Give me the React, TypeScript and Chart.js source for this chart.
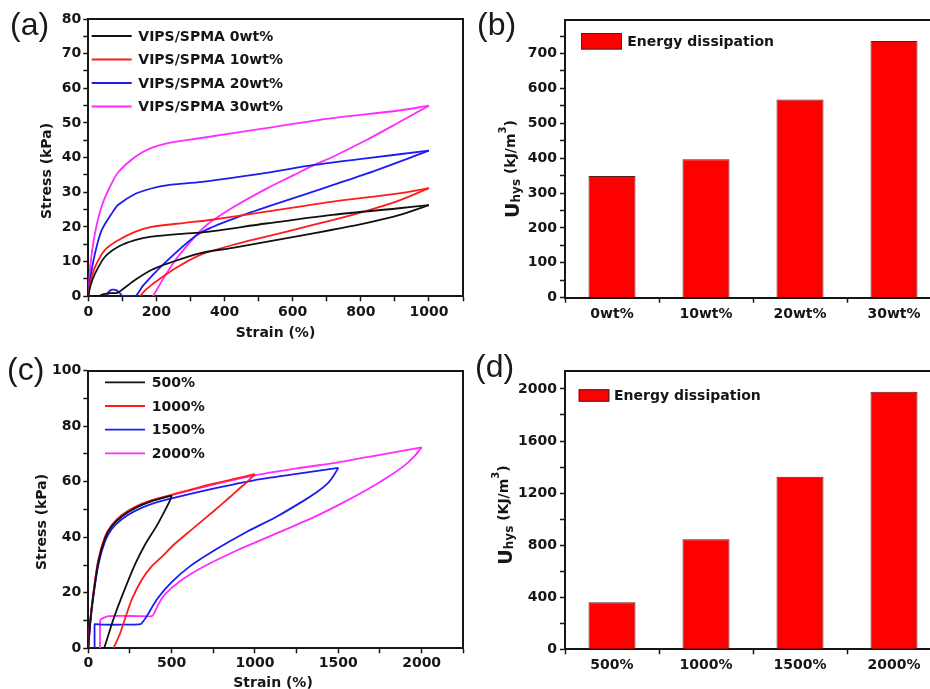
import React, { useEffect, useRef } from 'react';
import { Chart, registerables } from 'chart.js';

Chart.register(...registerables);

const FONT = '"DejaVu Sans", sans-serif';
const INK = '#161616';

// ---------- Panel (a): stress-strain loops, 0-30 wt% ----------
const aLabels = ['VIPS/SPMA 0wt%', 'VIPS/SPMA 10wt%', 'VIPS/SPMA 20wt%', 'VIPS/SPMA 30wt%'];
const aColors = ['#111111', '#ff1c1c', '#1c1cf2', '#ff2cff'];

const a0LoadStrain = [0, 6, 20, 49, 88, 137, 185, 283, 341, 522, 717, 912, 1000];
const a0LoadStress = [0, 3, 6.6, 11.4, 14.3, 16.2, 17.2, 18.1, 18.5, 21.0, 23.5, 25.4, 26.3];
const a0UnloadStrain = [1000, 912, 815, 717, 620, 522, 424, 327, 234, 185, 137, 98, 85, 65, 45, 30];
const a0UnloadStress = [26.3, 23.4, 21.1, 19.2, 17.4, 15.7, 14.0, 12.4, 9.5, 7.6, 4.7, 1.8, 1.0, 0.9, 0.6, 0];

const a10LoadStrain = [0, 6, 20, 49, 88, 137, 185, 283, 341, 522, 717, 912, 1000];
const a10LoadStress = [0, 4, 8.5, 13.4, 16.2, 18.6, 20.0, 21.2, 21.8, 24.4, 27.3, 29.7, 31.2];
const a10UnloadStrain = [1000, 912, 815, 717, 620, 522, 424, 327, 263, 205, 170, 151];
const a10UnloadStress = [31.2, 27.6, 24.6, 22.0, 19.6, 17.2, 14.8, 11.9, 8.5, 4.7, 2.0, 0];

const a20LoadStrain = [0, 8, 20, 39, 73, 88, 137, 185, 234, 334, 522, 663, 815, 1000];
const a20LoadStress = [0, 6.5, 12.5, 19, 24.5, 26.4, 29.5, 31.1, 32.1, 33.0, 35.6, 37.9, 39.8, 42];
const a20UnloadStrain = [1000, 815, 620, 454, 327, 234, 185, 160, 137, 100, 92, 82, 70, 60, 55];
const a20UnloadStress = [42, 35.3, 28.9, 23.4, 18.2, 10.5, 5.7, 3.0, 0, 0.2, 1.0, 1.8, 1.9, 1.3, 0.3];

const a30LoadStrain = [0, 6, 19.6, 39, 63.5, 88, 137, 185, 234, 327, 522, 717, 912, 1000];
const a30LoadStress = [0, 9, 18.2, 25.9, 31.6, 35.8, 40.2, 42.8, 44.2, 45.6, 48.5, 51.4, 53.6, 55];
const a30UnloadStrain = [1000, 912, 815, 717, 663, 600, 522, 424, 341, 263, 224, 190];
const a30UnloadStress = [55, 50.2, 45.0, 40.2, 37.9, 34.8, 31.0, 25.6, 20.0, 11.4, 5.7, 0];

// ---------- Panel (b): energy dissipation vs content ----------
const bCategories = ['0wt%', '10wt%', '20wt%', '30wt%'];
const bValues = [349, 397, 568, 736];

// ---------- Panel (c): loops at different strains ----------
const cLabels = ['500%', '1000%', '1500%', '2000%'];
const cColors = ['#111111', '#ff1c1c', '#1c1cf2', '#ff2cff'];

const c500LoadStrain = [0, 10, 30, 60, 100, 141, 201, 281, 381, 500];
const c500LoadStress = [0, 8.5, 19, 31, 39.5, 44, 47.5, 50.5, 53, 55];
const c500UnloadStrain = [500, 491, 461, 411, 341, 281, 201, 150, 111, 95];
const c500UnloadStress = [55, 53.4, 49.8, 44.2, 37.4, 30.3, 18.6, 10.4, 3, 0];

const c1000LoadStrain = [0, 10, 30, 60, 100, 141, 201, 281, 381, 500, 750, 1000];
const c1000LoadStress = [0, 9, 19.8, 31.8, 40.2, 44.4, 48, 51, 53.4, 55.3, 59.3, 62.7];
const c1000UnloadStrain = [1000, 960, 900, 852, 750, 611, 511, 450, 381, 320, 261, 225, 191, 165, 150];
const c1000UnloadStress = [62.7, 60.3, 57.2, 54.6, 49.3, 42.3, 37.2, 33.5, 29.6, 24.6, 17.6, 11.5, 5.4, 1.8, 0];

const c1500LoadStrain = [0, 10, 30, 60, 100, 141, 201, 281, 381, 500, 750, 1000, 1250, 1500];
const c1500LoadStress = [0, 8, 18.5, 30, 38.5, 43, 46.5, 49.5, 52, 54, 57.5, 60.6, 62.8, 65];
const c1500UnloadStrain = [1500, 1470, 1433, 1370, 1293, 1132, 952, 782, 611, 500, 411, 350, 320, 305, 200, 100, 45, 38, 38];
const c1500UnloadStress = [65, 62, 59.2, 56.2, 53.2, 47.5, 42, 36.2, 29.6, 23.8, 17.6, 11.5, 9, 8.6, 8.5, 8.5, 8.7, 8.7, 0];

const c2000LoadStrain = [0, 10, 30, 60, 100, 141, 201, 281, 381, 500, 750, 1000, 1250, 1500, 1750, 2000];
const c2000LoadStress = [0, 8.5, 19.5, 31.5, 40, 44.2, 47.8, 50.8, 53.2, 55.2, 59, 62.3, 64.8, 67, 69.7, 72.4];
const c2000UnloadStrain = [2000, 1960, 1900, 1800, 1674, 1520, 1373, 1200, 1052, 900, 691, 560, 461, 420, 395, 381, 300, 200, 120, 85, 72, 70];
const c2000UnloadStress = [72.4, 69.4, 66, 61.8, 57.2, 52.2, 47.8, 43.2, 39.4, 35.5, 29.4, 24.6, 19.5, 15.8, 12.6, 11.6, 11.6, 11.7, 11.6, 10.8, 10.2, 0];

// ---------- Panel (d): energy dissipation vs strain ----------
const dCategories = ['500%', '1000%', '1500%', '2000%'];
const dValues = [361, 846, 1325, 1979];

// ---------- helpers ----------
const zip = (xs: number[], ys: number[]) => xs.map((x, i) => ({ x, y: ys[i] }));

const tickFont = { family: FONT, size: 14, weight: 'bold' as const };

function baseAxis(extra: any) {
  return {
    display: true,
    border: { display: true, color: INK, width: 2 },
    grid: { display: true, drawOnChartArea: false, drawTicks: true, tickLength: 5, tickColor: INK, tickWidth: 1.5, color: INK },
    ...extra,
  };
}

function frameAxis(position: 'top' | 'right', size: number) {
  return {
    type: 'linear',
    position,
    display: true,
    grid: { display: false },
    ticks: { display: false },
    border: { display: true, color: INK, width: 2 },
    afterFit: (s: any) => {
      if (position === 'top') s.height = size;
      else s.width = size;
    },
  };
}

function drawText(ctx: CanvasRenderingContext2D, text: string, x: number, y: number, size = 14) {
  ctx.save();
  ctx.fillStyle = INK;
  ctx.font = `bold ${size}px ${FONT}`;
  ctx.textAlign = 'center';
  ctx.textBaseline = 'middle';
  ctx.fillText(text, x, y);
  ctx.restore();
}

type Part = { t: string; size: number; dy?: number };
function drawRotated(ctx: CanvasRenderingContext2D, cx: number, cy: number, parts: Part[]) {
  ctx.save();
  ctx.translate(cx, cy);
  ctx.rotate(-Math.PI / 2);
  ctx.fillStyle = INK;
  ctx.textBaseline = 'alphabetic';
  ctx.textAlign = 'left';
  let total = 0;
  const widths = parts.map((p) => {
    ctx.font = `bold ${p.size}px ${FONT}`;
    const w = ctx.measureText(p.t).width;
    total += w;
    return w;
  });
  let x = -total / 2;
  parts.forEach((p, i) => {
    ctx.font = `bold ${p.size}px ${FONT}`;
    ctx.fillText(p.t, x, p.dy || 0);
    x += widths[i];
  });
  ctx.restore();
}

function lineLegend(ctx: CanvasRenderingContext2D, labels: string[], colors: string[], x0: number, x1: number, tx: number, y0: number, dy: number) {
  ctx.save();
  labels.forEach((lab, i) => {
    const y = y0 + i * dy;
    ctx.strokeStyle = colors[i];
    ctx.lineWidth = 1.8;
    ctx.beginPath();
    ctx.moveTo(x0, y);
    ctx.lineTo(x1, y);
    ctx.stroke();
    ctx.fillStyle = INK;
    ctx.font = `bold 14px ${FONT}`;
    ctx.textAlign = 'left';
    ctx.textBaseline = 'middle';
    ctx.fillText(lab, tx, y + 1);
  });
  ctx.restore();
}

function barLegend(ctx: CanvasRenderingContext2D, label: string, bx: number, by: number, bw: number, bh: number, tx: number) {
  ctx.save();
  ctx.fillStyle = '#ff0000';
  ctx.fillRect(bx, by, bw, bh);
  ctx.strokeStyle = '#5a1c1c';
  ctx.lineWidth = 1;
  ctx.strokeRect(bx + 0.5, by + 0.5, bw - 1, bh - 1);
  ctx.fillStyle = INK;
  ctx.font = `bold 14px ${FONT}`;
  ctx.textAlign = 'left';
  ctx.textBaseline = 'middle';
  ctx.fillText(label, tx, by + bh / 2 + 1);
  ctx.restore();
}

function loopDatasets(pairs: [number[], number[], number[], number[]][], colors: string[], tension: number) {
  const out: any[] = [];
  pairs.forEach((p, i) => {
    [zip(p[0], p[1]), zip(p[2], p[3])].forEach((data) => {
      out.push({
        data,
        borderColor: colors[i],
        backgroundColor: colors[i],
        borderWidth: 1.8,
        pointRadius: 0,
        tension,
        fill: false,
      });
    });
  });
  return out;
}

function buildA(canvas: HTMLCanvasElement) {
  return new Chart(canvas, {
    type: 'line',
    data: {
      datasets: loopDatasets(
        [
          [a0LoadStrain, a0LoadStress, a0UnloadStrain, a0UnloadStress],
          [a10LoadStrain, a10LoadStress, a10UnloadStrain, a10UnloadStress],
          [a20LoadStrain, a20LoadStress, a20UnloadStrain, a20UnloadStress],
          [a30LoadStrain, a30LoadStress, a30UnloadStrain, a30UnloadStress],
        ],
        aColors,
        0.3
      ),
    },
    options: {
      responsive: false,
      animation: false,
      devicePixelRatio: 1,
      layout: { padding: 0 },
      plugins: { legend: { display: false }, tooltip: { enabled: false } },
      scales: {
        x: baseAxis({
          type: 'linear', position: 'bottom', min: 0, max: 1100,
          ticks: { stepSize: 100, color: INK, font: tickFont, padding: 3, autoSkip: false, maxRotation: 0,
            callback: (v: any) => (v % 200 === 0 && v <= 1000 ? String(v) : '') },
          afterFit: (s: any) => { s.height = 43.7; },
        }),
        y: baseAxis({
          type: 'linear', position: 'left', min: 0, max: 80,
          ticks: { stepSize: 5, color: INK, font: tickFont, padding: 2, autoSkip: false,
            callback: (v: any) => (v % 10 === 0 ? String(v) : '') },
          afterFit: (s: any) => { s.width = 88.3; },
        }),
        x2: frameAxis('top', 19),
        y2: frameAxis('right', 7),
      },
    } as any,
    plugins: [
      {
        id: 'overlayA',
        afterDraw(chart: any) {
          const ctx = chart.ctx;
          lineLegend(ctx, aLabels, aColors, 91.7, 131.7, 138.3, 36, 23.5);
          drawText(ctx, 'Strain (%)', 275.5, 333);
          drawRotated(ctx, 51, 171, [{ t: 'Stress (kPa)', size: 14 }]);
        },
      },
    ],
  });
}

function buildC(canvas: HTMLCanvasElement) {
  return new Chart(canvas, {
    type: 'line',
    data: {
      datasets: loopDatasets(
        [
          [c500LoadStrain, c500LoadStress, c500UnloadStrain, c500UnloadStress],
          [c1000LoadStrain, c1000LoadStress, c1000UnloadStrain, c1000UnloadStress],
          [c1500LoadStrain, c1500LoadStress, c1500UnloadStrain, c1500UnloadStress],
          [c2000LoadStrain, c2000LoadStress, c2000UnloadStrain, c2000UnloadStress],
        ],
        cColors,
        0.2
      ),
    },
    options: {
      responsive: false,
      animation: false,
      devicePixelRatio: 1,
      layout: { padding: 0 },
      plugins: { legend: { display: false }, tooltip: { enabled: false } },
      scales: {
        x: baseAxis({
          type: 'linear', position: 'bottom', min: 0, max: 2250,
          ticks: { stepSize: 250, color: INK, font: tickFont, padding: 2, autoSkip: false, maxRotation: 0,
            callback: (v: any) => (v % 500 === 0 && v <= 2000 ? String(v) : '') },
          afterFit: (s: any) => { s.height = 40.7; },
        }),
        y: baseAxis({
          type: 'linear', position: 'left', min: 0, max: 100,
          ticks: { stepSize: 10, color: INK, font: tickFont, padding: 2, autoSkip: false,
            callback: (v: any) => (v % 20 === 0 ? String(v) : '') },
          afterFit: (s: any) => { s.width = 88.3; },
        }),
        x2: frameAxis('top', 30.7),
        y2: frameAxis('right', 6.7),
      },
    } as any,
    plugins: [
      {
        id: 'overlayC',
        afterDraw(chart: any) {
          const ctx = chart.ctx;
          lineLegend(ctx, cLabels, cColors, 105, 145, 151.7, 42.3, 23.7);
          drawText(ctx, 'Strain (%)', 273, 343);
          drawRotated(ctx, 46, 182, [{ t: 'Stress (kPa)', size: 14 }]);
        },
      },
    ],
  });
}

function buildBar(canvas: HTMLCanvasElement, cats: string[], vals: number[], max: number, step: number, labelEvery: number,
  topH: number, botH: number, unit: string, legendBox: number[], legendTx: number, titlePos: number[]) {
  return new Chart(canvas, {
    type: 'bar',
    data: {
      labels: cats,
      datasets: [
        {
          label: 'Energy dissipation',
          data: vals,
          backgroundColor: '#ff0000',
          borderColor: '#5a1c1c',
          borderWidth: 1,
          barPercentage: 0.5,
          categoryPercentage: 1.0,
        },
      ],
    },
    options: {
      responsive: false,
      animation: false,
      devicePixelRatio: 1,
      layout: { padding: 0 },
      plugins: { legend: { display: false }, tooltip: { enabled: false } },
      scales: {
        x: {
          type: 'category', position: 'bottom', offset: true, display: true,
          border: { display: true, color: INK, width: 2 },
          grid: { display: true, offset: true, drawOnChartArea: false, drawTicks: true, tickLength: 5, tickColor: INK, tickWidth: 1.5, color: INK },
          ticks: { color: INK, font: tickFont, padding: 3, autoSkip: false, maxRotation: 0 },
          afterFit: (s: any) => { s.height = botH; },
        },
        y: baseAxis({
          type: 'linear', position: 'left', min: 0, max,
          ticks: { stepSize: step, includeBounds: false, color: INK, font: tickFont, padding: 3, autoSkip: false,
            callback: (v: any) => (v % labelEvery === 0 ? String(v) : '') },
          afterFit: (s: any) => { s.width = 95; },
        }),
        x2: frameAxis('top', topH),
        y2: frameAxis('right', 9),
      },
    } as any,
    plugins: [
      {
        id: 'overlayBar',
        afterDraw(chart: any) {
          const ctx = chart.ctx;
          barLegend(ctx, 'Energy dissipation', legendBox[0], legendBox[1], legendBox[2], legendBox[3], legendTx);
          drawRotated(ctx, titlePos[0], titlePos[1], [
            { t: 'U', size: 19 },
            { t: 'hys', size: 12, dy: 1 },
            { t: ' (' + unit + '/m', size: 14, dy: -4 },
            { t: '3', size: 10, dy: -13 },
            { t: ')', size: 14, dy: -4 },
          ]);
        },
      },
    ],
  });
}

function ChartCanvas({ left, top, width, height, build }: { left: number; top: number; width: number; height: number; build: (c: HTMLCanvasElement) => Chart }) {
  const ref = useRef<HTMLCanvasElement>(null);
  useEffect(() => {
    const chart = build(ref.current as HTMLCanvasElement);
    return () => chart.destroy();
  }, []);
  return (
    <canvas
      ref={ref}
      width={width}
      height={height}
      style={{ position: 'absolute', left, top, width, height, display: 'block' }}
    />
  );
}

const panelLabelStyle: React.CSSProperties = {
  position: 'absolute',
  fontFamily: '"Liberation Sans", Arial, sans-serif',
  fontSize: 32,
  lineHeight: '32px',
  color: '#1a1a1a',
  whiteSpace: 'nowrap',
};

export default function App() {
  return (
    <div style={{ position: 'fixed', left: 0, top: 0, width: 930, height: 689, overflow: 'hidden', background: '#ffffff' }}>
      <ChartCanvas left={0} top={0} width={470} height={340} build={buildA} />
      <ChartCanvas
        left={470}
        top={0}
        width={480}
        height={340}
        build={(c) => buildBar(c, bCategories, bValues, 796, 50, 100, 20, 42.3, 'kJ', [111, 33, 41, 16.5], 157.3, [49, 169])}
      />
      <ChartCanvas left={0} top={340} width={470} height={349} build={buildC} />
      <ChartCanvas
        left={470}
        top={340}
        width={480}
        height={349}
        build={(c) => buildBar(c, dCategories, dValues, 2140, 200, 400, 30.7, 39.7, 'KJ', [108.7, 49.3, 30.6, 12.4], 144, [41.7, 175])}
      />
      <div style={{ ...panelLabelStyle, left: 10, top: 8 }}>(a)</div>
      <div style={{ ...panelLabelStyle, left: 477, top: 8 }}>(b)</div>
      <div style={{ ...panelLabelStyle, left: 7, top: 353 }}>(c)</div>
      <div style={{ ...panelLabelStyle, left: 475, top: 350 }}>(d)</div>
    </div>
  );
}
